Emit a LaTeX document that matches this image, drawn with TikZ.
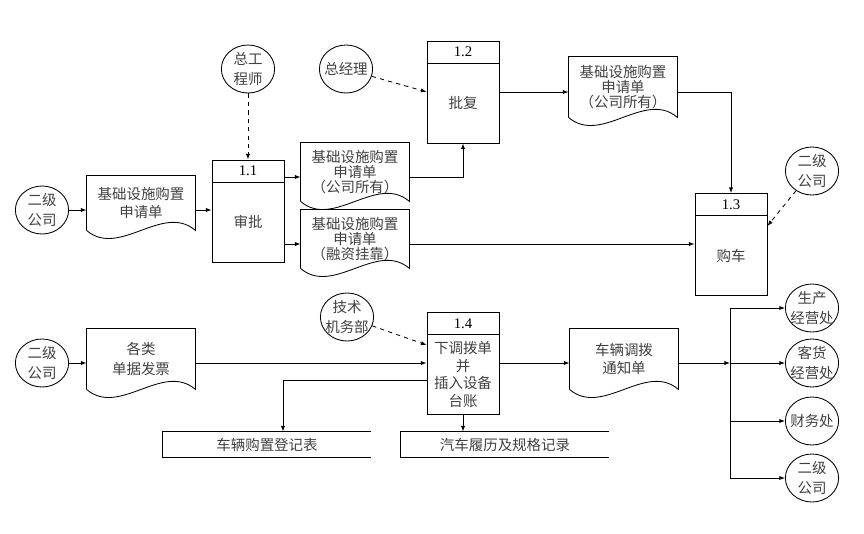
\documentclass[tikz,border=0pt]{standalone}
\usepackage{fontspec}
\setmainfont{Liberation Serif}
\newfontfamily\cjk{Noto Sans CJK SC}
\usepackage{tikz}
\usetikzlibrary{arrows.meta,calc,positioning,shapes.geometric}

% document symbol: straight top and sides, wavy bottom
\newcommand\docoutline[1]{%
  \draw (#1.south west) -- (#1.north west) -- (#1.north east) -- (#1.south east)
    .. controls ($(#1.south east)!0.3!(#1.south west)+(0,-28)$)
    and ($(#1.south east)!0.7!(#1.south west)+(0,28)$) .. (#1.south west);}
% data store: open on the right
\newcommand\taboutline[1]{%
  \draw (#1.north east) -- (#1.north west) -- (#1.south west) -- (#1.south east);}
% full-width brackets
\newcommand\fwparen[1]{\makebox[1em][r]{（}#1\makebox[1em][l]{）}}

\begin{document}
\begin{tikzpicture}[x=0.025cm,y=-0.025cm,line width=0.6pt,
  flow/.style={-{Latex[length=4pt,width=3pt]}},
  link/.style={flow,dashed},
  txt/.style={text=black!75,font=\fontsize{10.3}{12.5}\cjk},
  agent/.style={txt,draw,ellipse,minimum width=1.33cm,minimum height=1.2cm,
    inner xsep=-2.5pt,inner ysep=0pt,align=center,font=\fontsize{10.3}{14}\cjk},
  numbox/.style={draw,minimum width=1.8cm,minimum height=0.55cm,inner sep=0pt,
    font=\fontsize{10.5}{12}\selectfont},
  procbox/.style={txt,draw,minimum width=1.8cm,minimum height=2cm,align=center},
  docbox/.style={txt,minimum width=2.7cm,minimum height=1.5cm,align=center,inner sep=1pt},
  threeline/.style={minimum height=1.45cm,font=\fontsize{10.3}{10.5}\cjk},
  tabbox/.style={txt,minimum width=5.2cm,minimum height=0.625cm,inner sep=0pt}]
  \useasboundingbox (0,0) rectangle (864,534);

  % upper chain: request, approval, purchase
  \node[agent] (co1) at (42,210) {二级\\公司};
  \node[docbox,minimum height=1.35cm] (req) at (141,203) {基础设施购置\\申请单};
  \node[numbox] (n11) at (248,171) {1.1};
  \node[procbox] (p11) at (248,222) {审批};
  \node[agent] (chief) at (248,69) {总工\\程师};
  \node[docbox,threeline] (own1) at (355,172) {基础设施购置\\申请单\\\fwparen{公司所有}};
  \node[docbox,threeline] (fin) at (355,239) {基础设施购置\\申请单\\\fwparen{融资挂靠}};
  \node[numbox] (n12) at (463,52) {1.2};
  \node[procbox] (p12) at (463,103) {批复};
  \node[agent] (gm) at (346,69) {总经理};
  \node[docbox,threeline,minimum height=1.5cm] (own2) at (623,87) {基础设施购置\\申请单\\\fwparen{公司所有}};
  \node[numbox] (n13) at (731,204.5) {1.3};
  \node[procbox] (p13) at (731,255.5) {购车};
  \node[agent] (co2) at (812,171) {二级\\公司};

  % lower chain: allocation and notification
  \node[agent] (co3) at (42,363) {二级\\公司};
  \node[docbox,font=\fontsize{10.3}{14}\cjk] (bill) at (141,359) {各类\\单据发票};
  \node[agent] (tech) at (347,317) {技术\\机务部};
  \node[numbox] (n14) at (463,323.5) {1.4};
  \node[procbox] (p14) at (463,374.5) {下调拨单\\并\\插入设备\\台账};
  \node[tabbox] (reg) at (267,444.5) {车辆购置登记表};
  \node[tabbox] (hist) at (505,444.5) {汽车履历及规格记录};
  \node[docbox] (note) at (624,359) {车辆调拨\\通知单};
  \node[agent] (dep1) at (812,308) {生产\\经营处};
  \node[agent] (dep2) at (812,363) {客货\\经营处};
  \node[agent] (dep3) at (812,421) {财务处};
  \node[agent] (dep4) at (812,478) {二级\\公司};

  \foreach \d in {req,own1,fin,own2,bill,note} {\docoutline{\d}}
  \taboutline{reg}
  \taboutline{hist}

  % upper connectors
  \draw[flow] (co1) -- (co1 -| req.west);
  \draw[flow] (req.east |- co1) -- (co1 -| p11.west);
  \draw[link] (chief) -- (n11.north);
  \coordinate (own1in) at ($(own1.west)+(0,5)$);
  \coordinate (finin) at ($(fin.west)+(0,5)$);
  \draw[flow] (own1in -| p11.east) -- (own1in);
  \draw[flow] (finin -| p11.east) -- (finin);
  \draw[flow] ($(own1.east)+(0,5)$) -| (p12.south);
  \draw[flow] ($(fin.east)+(0,5)$) -- (finin -| p13.west);
  \draw[link] (gm) -- (p12.163);
  \coordinate (own2in) at ($(own2.west)+(0,5)$);
  \draw[flow] (own2in -| p12.east) -- (own2in);
  \draw[flow] ($(own2.east)+(0,5)$) -| (n13.north);
  \draw[link] (co2) -- (p13.39);

  % lower connectors
  \draw[flow] (co3) -- (co3 -| bill.west);
  \draw[flow] (bill.east |- co3) -- (co3 -| p14.west);
  \draw[link] (tech) -- (p14.141);
  \coordinate (regin) at ($(reg.north)+(16,0)$);
  \draw[flow] ($(p14.west)+(0,6)$) -| (regin);
  \draw[flow] (p14.south) -- (p14.south |- hist.north);
  \draw[flow] (p14.east |- co3) -- (co3 -| note.west);
  \coordinate (fork) at (730,363);
  \draw[flow] (note.east |- co3) -- (fork);
  \draw (fork |- dep1) -- (fork |- dep4);
  \foreach \d in {dep1,dep2,dep3,dep4} \draw[flow] (fork |- \d) -- (\d);
\end{tikzpicture}
\end{document}
